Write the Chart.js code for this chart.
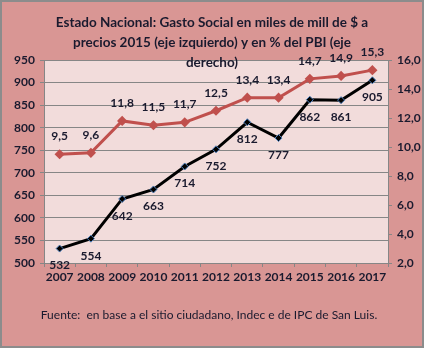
<!DOCTYPE html>
<html>
<head>
<meta charset="utf-8">
<script src="https://cdn.jsdelivr.net/npm/chart.js@4/dist/chart.umd.min.js"></script>
<style>
  html, body { margin: 0; padding: 0; background: #d99694; }
  #wrap { width: 424px; height: 348px; position: relative; }
</style>
</head>
<body>
<div id="wrap"><canvas id="chart" width="424" height="348"></canvas></div>
<script>
const years = ['2007', '2008', '2009', '2010', '2011', '2012', '2013', '2014', '2015', '2016', '2017']
const gasto = [532, 554, 642, 663, 714, 752, 812, 777, 862, 861, 905]
const pbi = [9.5, 9.6, 11.8, 11.5, 11.7, 12.5, 13.4, 13.4, 14.7, 14.9, 15.3]
const titleLines = ['Estado Nacional: Gasto Social en miles de mill de $ a', 'precios 2015 (eje izquierdo) y en % del PBI (eje', 'derecho)']
const fuente = 'Fuente:  en base a el sitio ciudadano, Indec e de IPC de San Luis.'

const FONT = 'Lato, "Open Sans", sans-serif'
const TEXT = '#1a1a2e'

const fmt = v => v.toFixed(1).replace('.', ',')

// background, plot area, title, footer and point labels
const decor = {
  id: 'decor',
  beforeDraw (chart) {
    const { ctx, chartArea: a } = chart
    ctx.save()
    ctx.fillStyle = '#d99694'
    ctx.fillRect(0, 0, chart.width, chart.height)
    ctx.strokeStyle = '#8c8c8c'
    ctx.lineWidth = 2
    ctx.strokeRect(1, 1, chart.width - 2, chart.height - 2)
    ctx.fillStyle = '#f2dcdb'
    ctx.fillRect(a.left, a.top, a.right - a.left, a.bottom - a.top)
    ctx.restore()
  },
  afterDraw (chart) {
    const { ctx } = chart
    ctx.save()
    ctx.fillStyle = TEXT
    ctx.textAlign = 'center'
    ctx.textBaseline = 'middle'
    ctx.font = 'bold 13.5px ' + FONT
    titleLines.forEach((t, i) => ctx.fillText(t, 212, 23 + i * 20))
    ctx.font = '12px ' + FONT
    ctx.fillText(fuente, 209, 315)

    ctx.font = 'bold 12px ' + FONT
    chart.getDatasetMeta(0).data.forEach((p, i) => {
      ctx.fillText(String(gasto[i]), p.x, p.y + 17)
    })
    chart.getDatasetMeta(1).data.forEach((p, i) => {
      ctx.fillText(fmt(pbi[i]), p.x, p.y - 18)
    })
    ctx.restore()
  }
}

const ctx = document.getElementById('chart').getContext('2d')
new Chart(ctx, {
  type: 'line',
  data: {
    labels: years,
    datasets: [{
      label: 'Gasto Social',
      data: gasto,
      yAxisID: 'y',
      borderColor: '#000000',
      borderWidth: 3,
      pointStyle: 'rectRot',
      pointRadius: 3.5,
      pointBackgroundColor: '#000000',
      pointBorderColor: '#4f81bd',
      pointBorderWidth: 1,
      tension: 0
    }, {
      label: '% del PBI',
      data: pbi,
      yAxisID: 'y1',
      borderColor: '#c0504d',
      borderWidth: 3,
      pointStyle: 'rectRot',
      pointRadius: 3,
      pointBackgroundColor: '#c0504d',
      pointBorderColor: '#c0504d',
      tension: 0
    }]
  },
  options: {
    responsive: false,
    animation: false,
    layout: { padding: { top: 60, bottom: 60, left: 0, right: 0 } },
    plugins: {
      legend: { display: false },
      tooltip: { enabled: false }
    },
    scales: {
      x: {
        offset: true,
        afterFit: s => { s.height = 25 },
        grid: { offset: true, drawOnChartArea: false, color: '#868686', tickLength: 4 },
        border: { color: '#868686' },
        ticks: { color: TEXT, font: { family: FONT, size: 12, weight: 'bold' }, padding: 3, maxRotation: 0 }
      },
      y: {
        position: 'left',
        min: 500,
        max: 950,
        afterFit: s => { s.width = 44 },
        grid: { color: '#868686', tickLength: 4 },
        border: { color: '#868686' },
        ticks: { stepSize: 50, color: TEXT, font: { family: FONT, size: 12, weight: 'bold' }, padding: 5 }
      },
      y1: {
        position: 'right',
        min: 2,
        max: 16,
        afterFit: s => { s.width = 36 },
        grid: { drawOnChartArea: false, color: '#868686', tickLength: 4 },
        border: { color: '#868686' },
        ticks: { stepSize: 2, color: TEXT, font: { family: FONT, size: 12, weight: 'bold' }, padding: 5, callback: v => fmt(v) }
      }
    }
  },
  plugins: [decor]
})
</script>
</body>
</html>
